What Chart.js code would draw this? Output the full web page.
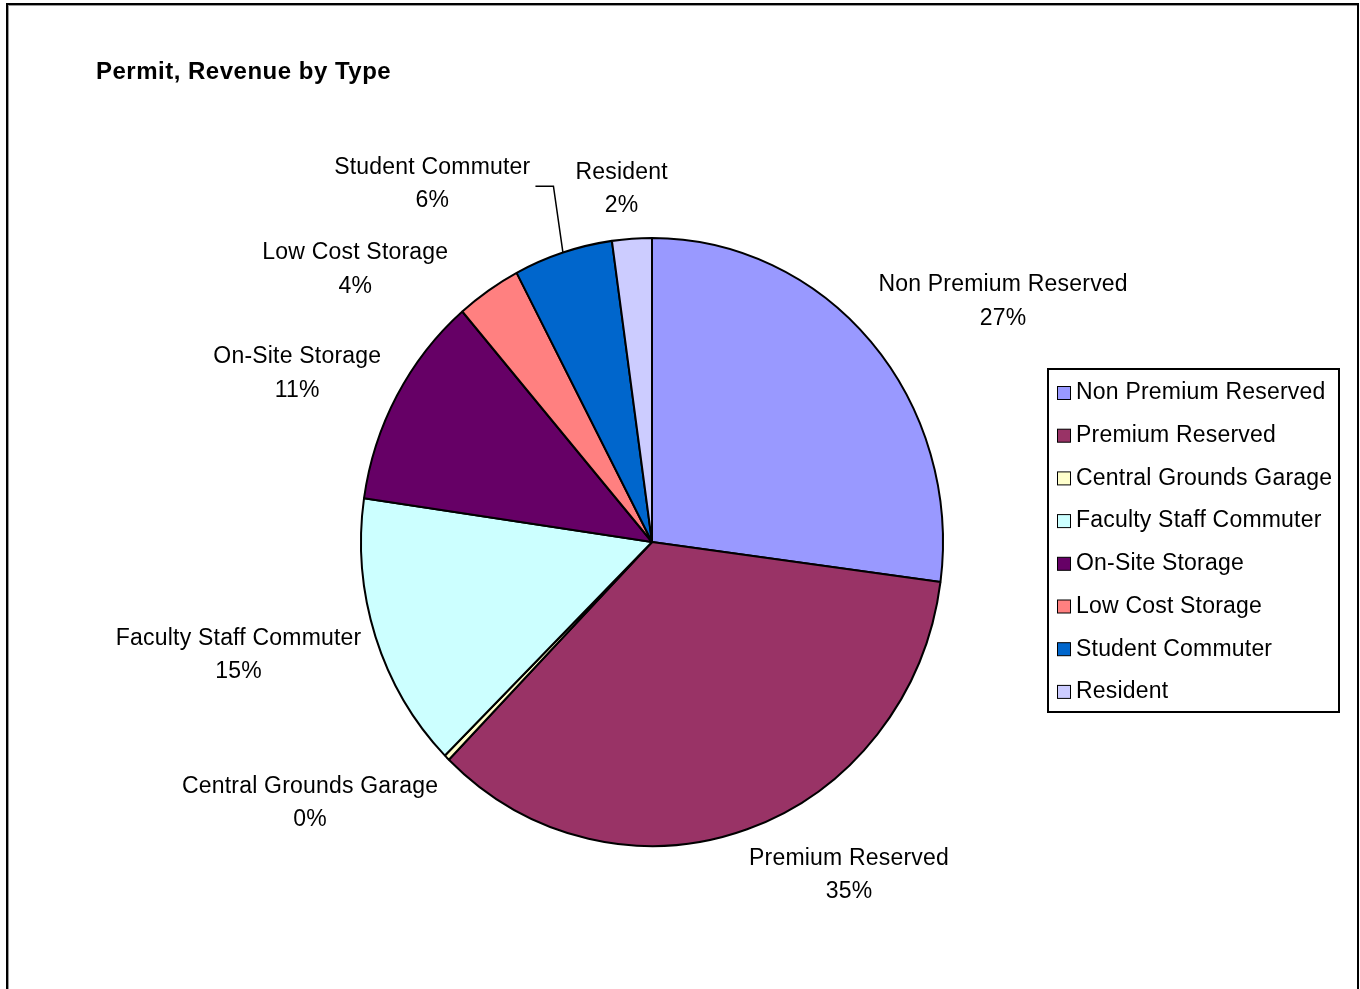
<!DOCTYPE html>
<html><head><meta charset="utf-8">
<script src="https://cdn.jsdelivr.net/npm/chart.js@4.4.0/dist/chart.umd.min.js"></script>
<style>
html,body{margin:0;padding:0;background:#fff;overflow:hidden;}
#wrap{position:relative;width:1360px;height:989px;}
#frame{position:absolute;left:6px;top:3px;width:1349px;height:1000px;border:2px solid #000;box-shadow:inset 1px 1px 0 #999;}
canvas{position:absolute;left:0;top:0;}
</style></head><body>
<div id="wrap"><div id="frame"></div><canvas id="c" width="1360" height="989"></canvas></div>
<script>
const chartTitle = 'Permit, Revenue by Type';
const categories = ['Non Premium Reserved','Premium Reserved','Central Grounds Garage','Faculty Staff Commuter','On-Site Storage','Low Cost Storage','Student Commuter','Resident'];
const values = [27.1, 35.2, 0.3, 14.7, 11.4, 3.6, 5.5, 2.2];
const colors = ['#9999FF','#993366','#FFFFCC','#CCFFFF','#660066','#FF8080','#0066CC','#CCCCFF'];
const leaderLines = [false,false,false,false,false,false,true,false];
const labelNudge = [[-6,-6],[-4,-3],[4,9],[3,2],[0,3],[-30,22],[-27,-19],[-9,2]];

const SY = 1.0447;          // vertical stretch of the pie as drawn in the reference
const FONT = '23px "Liberation Sans", Arial, sans-serif';
const LH = 33.5;
const GAP = 18;

const ellipse = {
  id: 'ellipse',
  beforeDatasetsDraw(chart) {
    const a = chart.getDatasetMeta(0).data[0];
    const ctx = chart.ctx;
    ctx.save();
    ctx.translate(a.x, a.y); ctx.scale(1, SY); ctx.translate(-a.x, -a.y);
  },
  afterDatasetsDraw(chart) { chart.ctx.restore(); }
};

const decor = {
  id: 'decor',
  afterDraw(chart) {
    const ctx = chart.ctx;
    const meta = chart.getDatasetMeta(0);
    const total = values.reduce((a, b) => a + b, 0);
    ctx.save();
    // title
    ctx.font = 'bold 24px "Liberation Sans", Arial, sans-serif';
    try { ctx.letterSpacing = '0.5px'; } catch (e) {}
    ctx.fillStyle = '#000'; ctx.textAlign = 'left'; ctx.textBaseline = 'middle';
    ctx.fillText(chartTitle, 96, 72);
    try { ctx.letterSpacing = '0.2px'; } catch (e) {}
    // data labels
    ctx.font = FONT; ctx.textAlign = 'center';
    ctx.strokeStyle = '#000'; ctx.lineWidth = 1.5;
    meta.data.forEach((arc, i) => {
      const p = arc.getProps(['x','y','startAngle','endAngle','outerRadius'], true);
      const mid = (p.startAngle + p.endAngle) / 2;
      const ux = Math.cos(mid), uy = Math.sin(mid);
      const R = p.outerRadius + GAP;
      const ax = p.x + ux * R, ay = p.y + uy * R * SY;
      const lines = [categories[i], Math.round(values[i] / total * 100) + '%'];
      const w = Math.max(...lines.map(t => ctx.measureText(t).width));
      let cx = ux > 0.25 ? ax + w / 2 : (ux < -0.25 ? ax - w / 2 : ax);
      let cy = ay + uy * 33;
      cx += labelNudge[i][0]; cy += labelNudge[i][1];
      lines.forEach((t, k) => ctx.fillText(t, cx, cy + (k - 0.5) * LH));
      if (leaderLines[i]) {
        const ex = p.x + ux * p.outerRadius, ey = p.y + uy * p.outerRadius * SY;
        const right = cx + w / 2;
        ctx.beginPath();
        ctx.moveTo(ex, ey);
        ctx.lineTo(right + 23, cy + 2);
        ctx.lineTo(right + 5, cy + 2);
        ctx.stroke();
      }
    });
    // legend
    const L = 1048, T = 369, W = 291, H = 343;
    ctx.lineWidth = 2; ctx.strokeStyle = '#000';
    ctx.strokeRect(L, T, W, H);
    ctx.textAlign = 'left';
    ctx.lineWidth = 1;
    categories.forEach((c, i) => {
      const yy = 393 + i * 42.7;
      ctx.fillStyle = colors[i];
      ctx.fillRect(1057.5, yy - 6.5, 13, 13);
      ctx.strokeRect(1057.5, yy - 6.5, 13, 13);
      ctx.fillStyle = '#000';
      ctx.fillText(c, 1076, yy);
    });
    ctx.restore();
  }
};

new Chart(document.getElementById('c'), {
  type: 'pie',
  data: {
    labels: categories,
    datasets: [{
      data: values,
      backgroundColor: colors,
      borderColor: '#000',
      borderWidth: 2,
      radius: 291
    }]
  },
  options: {
    responsive: false,
    animation: false,
    devicePixelRatio: 1,
    radius: 291,
    layout: { padding: { left: 361, right: 417, top: 251, bottom: 156 } },
    plugins: { legend: { display: false }, tooltip: { enabled: false }, title: { display: false } }
  },
  plugins: [ellipse, decor]
});
</script>
</body></html>
